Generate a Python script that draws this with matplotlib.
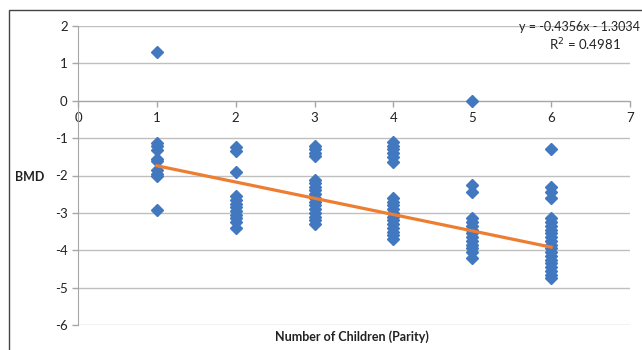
import numpy as np
import matplotlib
import matplotlib.pyplot as plt
from matplotlib.patches import Rectangle
matplotlib.use('Agg')

plt.rcParams['font.family'] = ['Lato', 'DejaVu Sans']
plt.rcParams['axes.unicode_minus'] = False

# BMD values, grouped by parity
bmd_p1 = [1.3, -1.12, -1.22, -1.32, -1.55, -1.62, -1.85, -1.95, -2.02, -2.92]
bmd_p2 = [-1.25, -1.35, -1.9, -2.55, -2.65, -2.75, -2.85, -2.95, -3.05, -3.15, -3.25, -3.4]
bmd_p3 = [-1.2, -1.3, -1.4, -1.48, -2.12, -2.2, -2.3, -2.4, -2.5, -2.6, -2.7, -2.8,
          -2.9, -3.0, -3.1, -3.2, -3.3]
bmd_p4 = [-1.1, -1.2, -1.3, -1.4, -1.5, -1.65, -2.6, -2.7, -2.8, -2.9, -3.0, -3.1,
          -3.2, -3.3, -3.4, -3.5, -3.6, -3.7]
bmd_p5 = [0.0, -2.25, -2.45, -3.15, -3.25, -3.35, -3.45, -3.55, -3.65, -3.75, -3.85,
          -3.95, -4.05, -4.2]
bmd_p6 = [-1.3, -2.3, -2.45, -2.6, -3.15, -3.25, -3.35, -3.45, -3.55, -3.65, -3.75,
          -3.85, -3.95, -4.05, -4.15, -4.25, -4.35, -4.45, -4.55, -4.65, -4.75]
groups = [bmd_p1, bmd_p2, bmd_p3, bmd_p4, bmd_p5, bmd_p6]
parity = [1, 2, 3, 4, 5, 6]

# trendline as printed on the chart
slope = -0.4356
intercept = -1.3034
r2 = 0.4981

x_ticks = [0, 1, 2, 3, 4, 5, 6, 7]
y_ticks = [2, 1, 0, -1, -2, -3, -4, -5, -6]

fig = plt.figure(figsize=(6.42, 3.5), dpi=100)
ax = fig.add_axes([78 / 642, 1 - 325 / 350, (630 - 78) / 642, (325 - 26) / 350])

# outer chart border
fig.patches.append(Rectangle((9 / 642, -0.1), 1.2, 1 - 10 / 350 + 0.1,
                             transform=fig.transFigure, fill=False,
                             edgecolor='#444444', linewidth=1.0))

xs = []
ys = []
for p, vals in zip(parity, groups):
    xs += [p] * len(vals)
    ys += vals
ax.plot(xs, ys, linestyle='none', marker='D', markersize=6.3,
        color='#4178C0', zorder=3)

tx = np.array([parity[0], parity[-1]])
ax.plot(tx, slope * tx + intercept, color='#ED7D31', linewidth=2.3, zorder=4)

ax.set_xlim(0, 7)
ax.set_ylim(-6, 2)
ax.set_xticks(x_ticks)
ax.set_yticks(y_ticks)
ax.yaxis.grid(True, color='#BFBFBF', linewidth=1.0)
ax.set_axisbelow(True)

for s in ['top', 'right']:
    ax.spines[s].set_visible(False)
ax.spines['bottom'].set_position(('data', 0))
ax.spines['bottom'].set_color('#A6A6A6')
ax.spines['left'].set_color('#A6A6A6')
ax.tick_params(axis='both', colors='#A6A6A6', labelcolor='#222222', labelsize=9.5,
               length=4, width=1)
ax.tick_params(axis='x', direction='out', pad=4)

fig.text(30 / 642, 1 - 177 / 350, 'BMD', fontsize=9, fontweight='bold',
         ha='center', va='center', color='#222222')
fig.text(352 / 642, 1 - 337 / 350, 'Number of Children (Parity)', fontsize=9,
         fontweight='bold', ha='center', va='center', color='#222222')

fig.text(640 / 642, 1 - 27 / 350, 'y = {:.4f}x - {:.4f}'.format(slope, -intercept),
         fontsize=9, ha='right', va='center', color='#222222')
fig.text(585 / 642, 1 - 45 / 350, 'R$^2$ = {:.4f}'.format(r2), fontsize=9.5,
         ha='center', va='center', color='#222222')

plt.savefig('out.png', dpi=100)
plt.close()
